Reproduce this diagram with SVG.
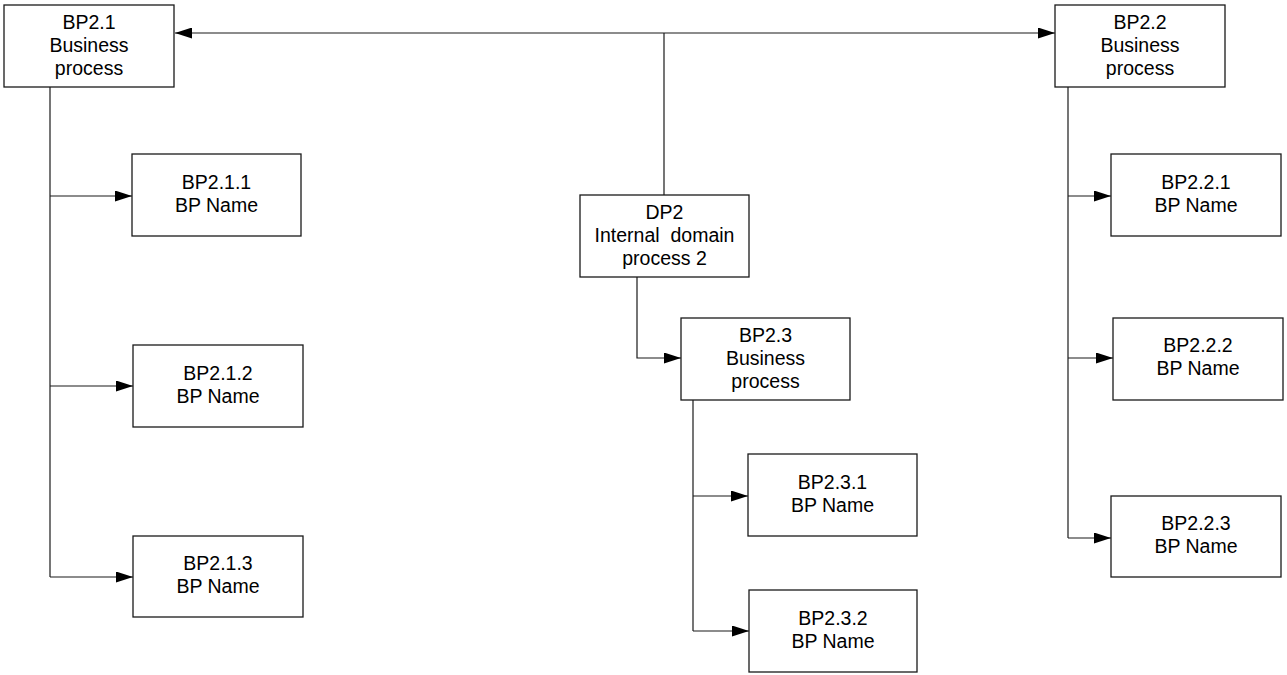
<svg xmlns="http://www.w3.org/2000/svg" width="1287" height="675" viewBox="0 0 1287 675">
  <style>
    .box { fill: #ffffff; stroke: #1a1a1a; stroke-width: 1.3; }
    .lbl { font-family: "Liberation Sans", Arial, sans-serif; font-size: 19.5px; fill: #000000; text-anchor: middle; }
    .conn { fill: none; stroke: #1a1a1a; stroke-width: 1.2; }
  </style>
  <defs>
    <marker id="arrow" viewBox="0 0 17 11" refX="17" refY="5.5" markerWidth="17" markerHeight="11" markerUnits="userSpaceOnUse" orient="auto-start-reverse">
      <path d="M0,0 L17,5.5 L0,11 Z" fill="#000000"/>
    </marker>
  </defs>

  <rect width="1287" height="675" fill="#ffffff"/>

  <!-- connectors -->
  <g id="connectors">
    <!-- top bus linking BP2.1 and BP2.2, fed from DP2 -->
    <path class="conn" d="M175,33 L1055,33" marker-start="url(#arrow)" marker-end="url(#arrow)"/>
    <path class="conn" d="M664,33 L664,195"/>
    <!-- BP2.1 children -->
    <path class="conn" d="M50,87 L50,577"/>
    <path class="conn" d="M50,196 L132,196" marker-end="url(#arrow)"/>
    <path class="conn" d="M50,386 L133,386" marker-end="url(#arrow)"/>
    <path class="conn" d="M50,577 L133,577" marker-end="url(#arrow)"/>
    <!-- DP2 to BP2.3 -->
    <path class="conn" d="M637,277 L637,358 L681,358" marker-end="url(#arrow)"/>
    <!-- BP2.3 children -->
    <path class="conn" d="M693,400 L693,631"/>
    <path class="conn" d="M693,496 L748,496" marker-end="url(#arrow)"/>
    <path class="conn" d="M693,631 L749,631" marker-end="url(#arrow)"/>
    <!-- BP2.2 children -->
    <path class="conn" d="M1068,87 L1068,538"/>
    <path class="conn" d="M1068,196 L1111,196" marker-end="url(#arrow)"/>
    <path class="conn" d="M1068,358 L1113,358" marker-end="url(#arrow)"/>
    <path class="conn" d="M1068,538 L1111,538" marker-end="url(#arrow)"/>
  </g>

  <!-- nodes -->
  <g id="bp2-1">
    <rect class="box" x="4" y="5" width="170" height="82"/>
    <text class="lbl" x="89" y="29">BP2.1</text>
    <text class="lbl" x="89" y="52">Business</text>
    <text class="lbl" x="89" y="75">process</text>
  </g>
  <g id="bp2-2">
    <rect class="box" x="1055" y="5" width="170" height="82"/>
    <text class="lbl" x="1140" y="29">BP2.2</text>
    <text class="lbl" x="1140" y="52">Business</text>
    <text class="lbl" x="1140" y="75">process</text>
  </g>
  <g id="dp2">
    <rect class="box" x="580" y="195" width="169" height="82"/>
    <text class="lbl" x="664.5" y="219">DP2</text>
    <text class="lbl" x="664.5" y="242" xml:space="preserve">Internal  domain</text>
    <text class="lbl" x="664.5" y="265">process 2</text>
  </g>
  <g id="bp2-3">
    <rect class="box" x="681" y="318" width="169" height="82"/>
    <text class="lbl" x="765.5" y="342">BP2.3</text>
    <text class="lbl" x="765.5" y="365">Business</text>
    <text class="lbl" x="765.5" y="388">process</text>
  </g>

  <g id="bp2-1-1">
    <rect class="box" x="132" y="154" width="169" height="82"/>
    <text class="lbl" x="216.5" y="189">BP2.1.1</text>
    <text class="lbl" x="216.5" y="212">BP Name</text>
  </g>
  <g id="bp2-1-2">
    <rect class="box" x="133" y="345" width="170" height="82"/>
    <text class="lbl" x="218" y="380">BP2.1.2</text>
    <text class="lbl" x="218" y="403">BP Name</text>
  </g>
  <g id="bp2-1-3">
    <rect class="box" x="133" y="536" width="170" height="81"/>
    <text class="lbl" x="218" y="570">BP2.1.3</text>
    <text class="lbl" x="218" y="593">BP Name</text>
  </g>

  <g id="bp2-3-1">
    <rect class="box" x="748" y="454" width="169" height="82"/>
    <text class="lbl" x="832.5" y="489">BP2.3.1</text>
    <text class="lbl" x="832.5" y="512">BP Name</text>
  </g>
  <g id="bp2-3-2">
    <rect class="box" x="749" y="590" width="168" height="82"/>
    <text class="lbl" x="833" y="625">BP2.3.2</text>
    <text class="lbl" x="833" y="648">BP Name</text>
  </g>

  <g id="bp2-2-1">
    <rect class="box" x="1111" y="154" width="170" height="82"/>
    <text class="lbl" x="1196" y="189">BP2.2.1</text>
    <text class="lbl" x="1196" y="212">BP Name</text>
  </g>
  <g id="bp2-2-2">
    <rect class="box" x="1113" y="318" width="170" height="82"/>
    <text class="lbl" x="1198" y="352">BP2.2.2</text>
    <text class="lbl" x="1198" y="375">BP Name</text>
  </g>
  <g id="bp2-2-3">
    <rect class="box" x="1111" y="496" width="170" height="81"/>
    <text class="lbl" x="1196" y="530">BP2.2.3</text>
    <text class="lbl" x="1196" y="553">BP Name</text>
  </g>
</svg>
